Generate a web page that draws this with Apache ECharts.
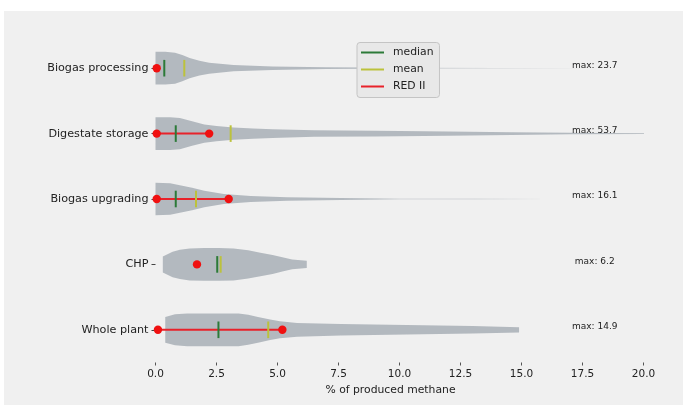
<!DOCTYPE html>
<html><head><meta charset="utf-8">
<script src="https://cdn.jsdelivr.net/npm/echarts@6/dist/echarts.min.js"></script>
<style>
html,body{margin:0;padding:0;background:#fff;}
#bg{position:absolute;left:4px;top:11px;width:679px;height:394px;background:#f0f0f0;}
#chart{position:absolute;left:0;top:0;width:683px;height:405px;}
</style></head><body>
<div id="bg"></div><div id="chart"></div>
<script>
// ---- data ----
const categories = ['Biogas processing', 'Digestate storage', 'Biogas upgrading', 'CHP', 'Whole plant'];
const maxValues = [23.7, 53.7, 16.1, 6.2, 14.9];
const medians = [0.36, 0.83, 0.83, 2.53, 2.58];
const means = [1.18, 3.08, 1.66, 2.67, 4.62];
const red2Low = [0.05, 0.05, 0.05, 1.7, 0.1];
const red2High = [0.05, 2.2, 3.0, 1.7, 5.2];
// violin outlines: x positions and relative density (1 = widest)
const densityX0 = [0, 0.4, 0.8, 1.1, 1.4, 1.8, 2.2, 3.2, 4.8, 7, 10, 14, 18, 23.7];
const densityW0 = [1, 1, 0.95, 0.8, 0.62, 0.45, 0.34, 0.19, 0.11, 0.055, 0.022, 0.008, 0.003, 0];
const densityX1 = [0, 0.6, 1.0, 1.5, 2.0, 2.5, 3.2, 4.0, 4.8, 6.5, 9, 12, 14.6, 17, 20, 30, 40, 53.7];
const densityW1 = [1, 1, 0.96, 0.75, 0.56, 0.47, 0.38, 0.31, 0.27, 0.2, 0.17, 0.125, 0.08, 0.045, 0.028, 0.012, 0.006, 0];
const densityX2 = [0, 0.6, 1.0, 1.5, 2.0, 2.8, 3.9, 5.4, 7.6, 10, 13, 16.1];
const densityW2 = [1, 0.97, 0.84, 0.69, 0.5, 0.31, 0.19, 0.11, 0.055, 0.022, 0.008, 0];
const densityX3 = [0.3, 0.7, 1.0, 1.4, 2.0, 2.6, 3.2, 3.8, 4.3, 4.8, 5.2, 5.6, 6.2];
const densityW3 = [0.49, 0.78, 0.9, 0.98, 1, 1, 0.98, 0.86, 0.72, 0.58, 0.44, 0.3, 0.22];
const densityX4 = [0.4, 0.8, 1.3, 3.4, 3.8, 4.2, 4.7, 5.1, 5.8, 7.6, 10.3, 13, 14.9];
const densityW4 = [0.79, 0.95, 1, 1, 0.92, 0.79, 0.63, 0.52, 0.42, 0.35, 0.29, 0.23, 0.16];
const xTicks = [0, 2.5, 5, 7.5, 10, 12.5, 15, 17.5, 20];
const legendNames = ['median', 'mean', 'RED II'];
const xAxisTitle = '% of produced methane';

// ---- styling ----
const densityX = [densityX0, densityX1, densityX2, densityX3, densityX4];
const densityW = [densityW0, densityW1, densityW2, densityW3, densityW4];
const VIOLIN = '#b3b9bf';
const MEDIAN = '#2c7a38';
const MEAN = '#bcc23c';
const RED = '#e8222a';
const DOT = '#f01010';
const FONT = 'DejaVu Sans';
const HALF = 0.25;      // violin half width (fraction of band)
const TICKHALF = 0.127; // median/mean mark half length
const LABEL_X = 18;

const chart = echarts.init(document.getElementById('chart'), null, {renderer: 'canvas'});
const idxData = categories.map((c, i) => [0, i]);

function markSeries(name, values, color) {
  return {
    type: 'custom', name: name, z: 4, silent: true,
    itemStyle: {color: color},
    data: categories.map((c, i) => [values[i], i]),
    encode: {x: 0, y: 1},
    renderItem(params, api) {
      const v = api.value(0), i = api.value(1);
      const band = api.size([0, 1])[1];
      const p = api.coord([v, i]);
      return {type: 'line', shape: {x1: p[0], y1: p[1] - TICKHALF * band, x2: p[0], y2: p[1] + TICKHALF * band},
              style: {stroke: color, lineWidth: 2}};
    }
  };
}

const option = {
  animation: false,
  grid: {left: 155.5, right: 39.5, top: 35.5, height: 327},
  xAxis: {
    type: 'value', min: xTicks[0], max: xTicks[xTicks.length - 1], interval: xTicks[1] - xTicks[0],
    axisLine: {show: false}, splitLine: {show: false},
    axisTick: {show: true, length: 3, lineStyle: {color: '#555'}},
    axisLabel: {formatter: v => v.toFixed(1), fontFamily: FONT, fontSize: 10.5, color: '#222', margin: 6},
    name: xAxisTitle, nameLocation: 'middle', nameGap: 22,
    nameTextStyle: {fontFamily: FONT, fontSize: 10.8, color: '#222', padding: [0, 18, 0, 0]}
  },
  yAxis: {
    type: 'category', data: categories, inverse: true,
    axisLine: {show: false}, splitLine: {show: false},
    axisTick: {show: true, alignWithLabel: true, length: 4, lineStyle: {color: '#444'}},
    axisLabel: {fontFamily: FONT, fontSize: 11.2, color: '#222', margin: 7}
  },
  legend: {
    orient: 'vertical', left: 357, top: 42.5, selectedMode: false,
    data: [
      {name: legendNames[0], icon: 'rect', itemStyle: {color: MEDIAN}},
      {name: legendNames[1], icon: 'rect', itemStyle: {color: MEAN}},
      {name: legendNames[2], icon: 'rect', itemStyle: {color: RED}}
    ],
    itemWidth: 23, itemHeight: 2, itemGap: 3,
    textStyle: {fontFamily: FONT, fontSize: 10.8, color: '#222', lineHeight: 14, padding: [0, 0, 0, 4]},
    backgroundColor: '#e8e8e8', borderColor: '#c4c4c4', borderWidth: 1, borderRadius: 3,
    padding: [3, 6, 4, 4]
  },
  series: [
    {
      type: 'custom', name: 'violin', clip: true, silent: true, z: 1,
      data: idxData, encode: {x: 0, y: 1},
      renderItem(params, api) {
        const i = api.value(1);
        const xs = densityX[i], ws = densityW[i];
        const band = api.size([0, 1])[1];
        const top = [], bot = [];
        for (let k = 0; k < xs.length; k++) {
          const p = api.coord([xs[k], i]);
          top.push([p[0], p[1] - ws[k] * HALF * band]);
          bot.unshift([p[0], p[1] + ws[k] * HALF * band]);
        }
        return {type: 'polygon', shape: {points: top.concat(bot)}, style: {fill: VIOLIN}};
      }
    },
    {
      type: 'custom', name: legendNames[2], z: 3, silent: true,
      itemStyle: {color: RED},
      data: categories.map((c, i) => [red2Low[i], i, red2High[i]]),
      encode: {x: [0, 2], y: 1},
      renderItem(params, api) {
        const i = api.value(1);
        const a = api.coord([api.value(0), i]);
        const b = api.coord([api.value(2), i]);
        const children = [];
        if (b[0] - a[0] > 1) {
          children.push({type: 'line', shape: {x1: a[0], y1: a[1], x2: b[0], y2: b[1]}, style: {stroke: RED, lineWidth: 2}});
        }
        children.push({type: 'circle', shape: {cx: a[0], cy: a[1], r: 4.2}, style: {fill: DOT}});
        if (b[0] - a[0] > 1) children.push({type: 'circle', shape: {cx: b[0], cy: b[1], r: 4.2}, style: {fill: DOT}});
        return {type: 'group', children: children};
      }
    },
    markSeries(legendNames[0], medians, MEDIAN),
    markSeries(legendNames[1], means, MEAN),
    {
      type: 'custom', name: 'maxlabels', z: 5, silent: true,
      data: categories.map((c, i) => [LABEL_X, i, maxValues[i]]),
      encode: {x: 0, y: 1},
      renderItem(params, api) {
        const i = api.value(1);
        const p = api.coord([api.value(0), i]);
        return {type: 'text', x: p[0], y: p[1] - 3,
          style: {text: 'max: ' + maxValues[i], fill: '#222', font: '9px "DejaVu Sans"',
                  align: 'center', verticalAlign: 'middle', textAlign: 'center', textVerticalAlign: 'middle'}};
      }
    }
  ]
};
chart.setOption(option);
</script>
</body></html>
